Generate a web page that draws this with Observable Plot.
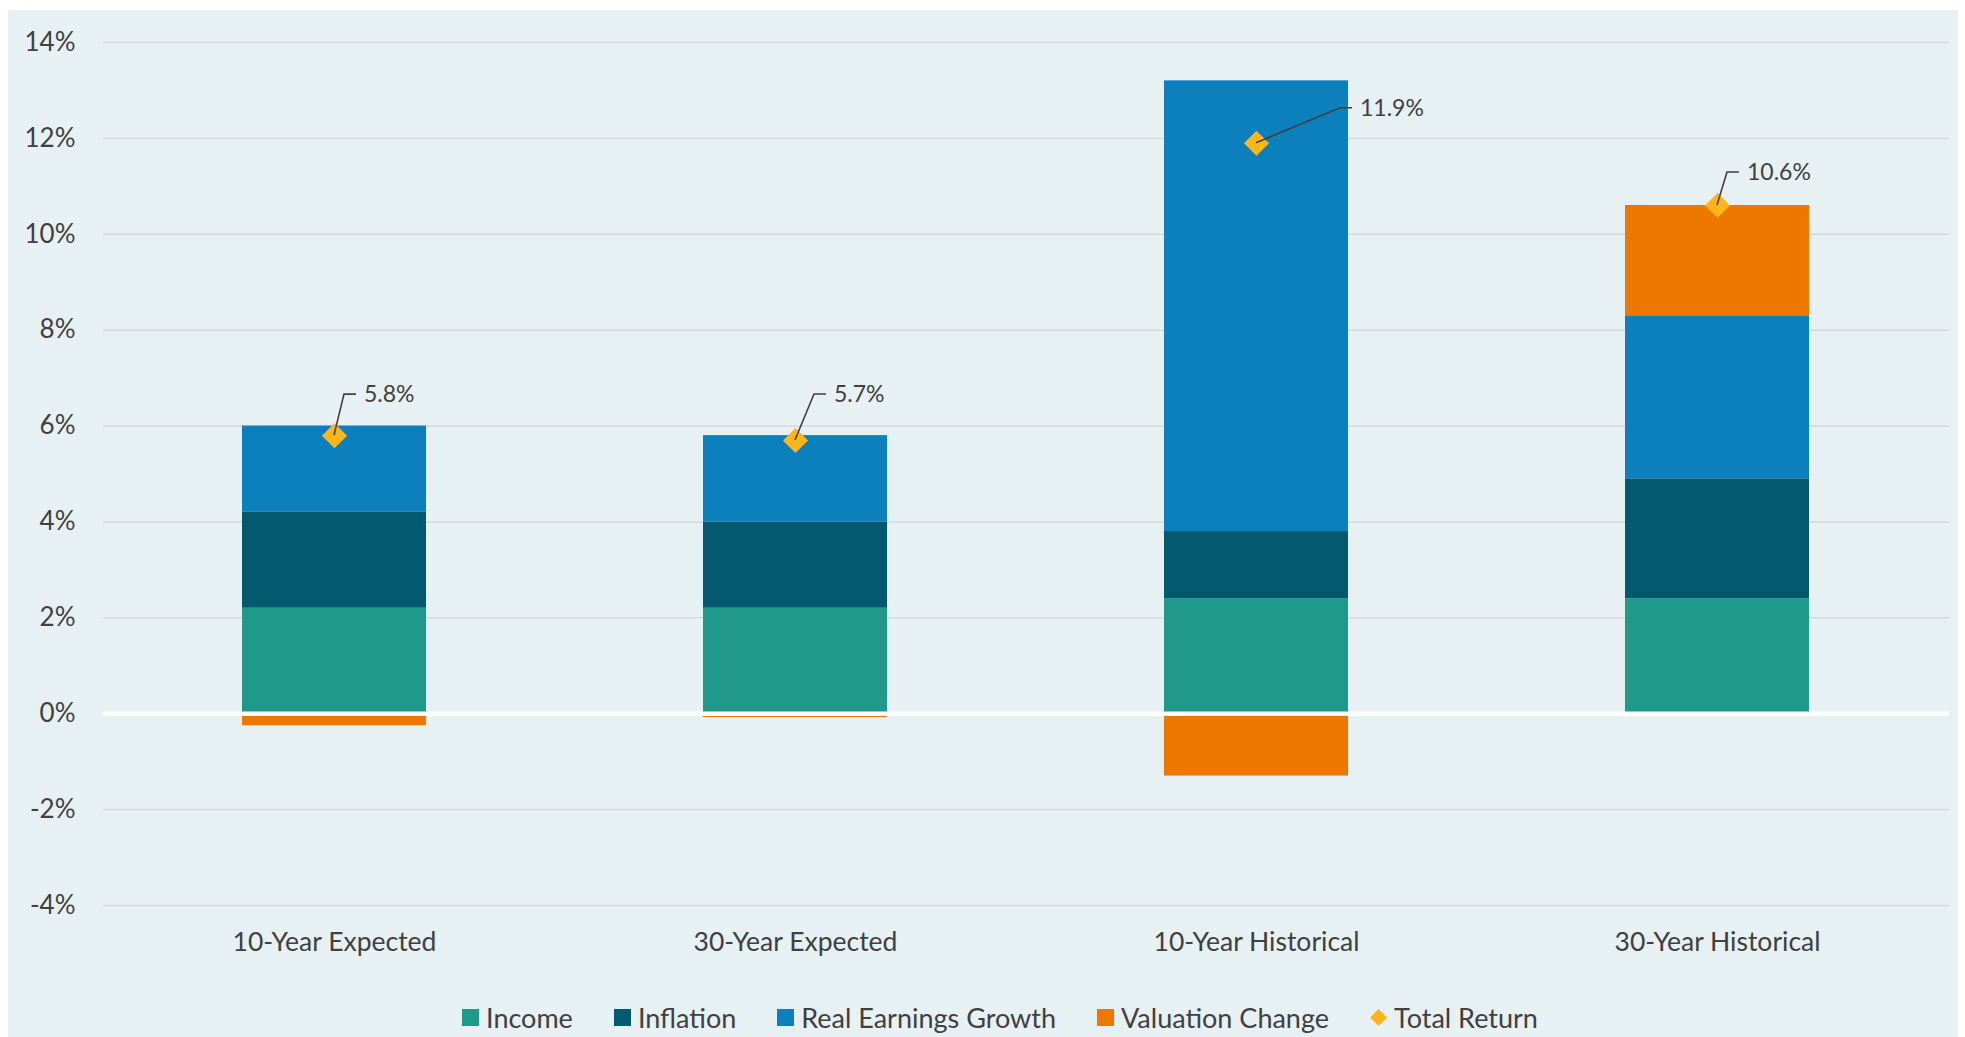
<!DOCTYPE html>
<html><head><meta charset="utf-8">
<script src="https://cdn.jsdelivr.net/npm/d3@7"></script>
<script src="https://cdn.jsdelivr.net/npm/@observablehq/plot@0.6"></script>
<style>
html,body{margin:0;padding:0;background:#fff;width:1965px;height:1037px;overflow:hidden;font-family:Lato,sans-serif;}
#panel{position:absolute;left:8px;top:10px;width:1950px;height:1027px;background:#E7F0F3;}
#chart{position:absolute;left:0;top:0;}
#legend{position:absolute;left:-8px;width:2000px;top:992px;height:30px;display:flex;justify-content:center;align-items:center;font-size:27px;color:#404040;font-family:Lato,sans-serif;}
.item{display:flex;align-items:center;margin:0 20.5px;white-space:nowrap;}
.sw{width:17px;height:17px;margin-right:7px;flex:none;}
</style></head><body>
<div id="panel"><div id="chart"></div><div id="legend"></div></div>
<script>
// ---- data ----
const categories = ["10-Year Expected", "30-Year Expected", "10-Year Historical", "30-Year Historical"];
const seriesNames = ["Income", "Inflation", "Real Earnings Growth", "Valuation Change"];
const income = [2.2, 2.2, 2.4, 2.4];
const inflation = [2.0, 1.8, 1.4, 2.5];
const realEarningsGrowth = [1.8, 1.8, 9.4, 3.4];
const valuationChange = [-0.25, -0.08, -1.3, 2.3];
const totalReturn = [5.8, 5.7, 11.9, 10.6];
const totalName = "Total Return";
const yTicks = [-4, -2, 0, 2, 4, 6, 8, 10, 12, 14];

// ---- styles ----
const seriesColors = ["#1F9A8A", "#03596F", "#0B80BC", "#EE7700"];
const totalColor = "#FDB619";
const textColor = "#404040";
// leader elbow offsets (px) from each diamond centre
const leaderOffsets = [[10, -41], [19, -46], [84, -35], [10, -33]];

const seriesValues = [income, inflation, realEarningsGrowth, valuationChange];
const rows = categories.flatMap((c, i) => seriesNames.map((s, j) => ({category: c, series: s, value: seriesValues[j][i]})));
const totals = categories.map((c, i) => ({category: c, total: totalReturn[i]}));

const chart = Plot.plot({
  width: 1950, height: 960,
  marginLeft: 95, marginRight: 9, marginTop: 32, marginBottom: 65,
  style: {background: "transparent", fontFamily: "Lato, sans-serif", color: textColor, fontSize: "26px"},
  x: {domain: categories, paddingInner: 0.6, paddingOuter: 0.3, label: null},
  y: {domain: [-4, 14], label: null},
  color: {domain: seriesNames, range: seriesColors},
  marks: [
    Plot.ruleY(yTicks.filter(t => t !== 0), {stroke: "#D5D9DB", strokeWidth: 1.5}),
    Plot.barY(rows, {x: "category", y: "value", fill: "series"}),
    Plot.ruleY([0], {stroke: "#FFFFFF", strokeWidth: 4.5}),
    Plot.dot(totals, {x: "category", y: "total", symbol: "diamond2", r: 11.3, fill: totalColor, stroke: "none"}),
    Plot.axisY({ticks: yTicks, tickFormat: d => d + "%", tickSize: 0, tickPadding: 28, fontSize: 26, label: null}),
    Plot.axisX({tickSize: 0, tickPadding: 27, fontSize: 26.5, label: null})
  ]
});
document.getElementById("chart").appendChild(chart);

// leader lines and total labels, positioned with the plot's scales
const sx = chart.scale("x"), sy = chart.scale("y");
const g = d3.select(chart).append("g");
totals.forEach((d, i) => {
  const cx = sx.apply(d.category) + sx.bandwidth / 2;
  const cy = sy.apply(d.total);
  const [dx, dy] = leaderOffsets[i];
  g.append("path")
    .attr("d", `M${cx},${cy}L${cx + dx},${cy + dy}h12`)
    .attr("fill", "none").attr("stroke", textColor).attr("stroke-width", 1.6);
  g.append("text")
    .attr("x", cx + dx + 20).attr("y", cy + dy).attr("dy", "0.35em")
    .attr("text-anchor", "start")
    .attr("fill", textColor).attr("font-size", 23)
    .text(d.total.toFixed(1) + "%");
});

// legend
const legend = d3.select("#legend");
seriesNames.forEach((s, j) => {
  const it = legend.append("div").attr("class", "item");
  it.append("div").attr("class", "sw").style("background", seriesColors[j]);
  it.append("span").text(s);
});
const tot = legend.append("div").attr("class", "item");
tot.append("svg").attr("width", 17).attr("height", 17).style("margin-right", "7px")
  .append("polygon").attr("points", "8.5,0 17,8.5 8.5,17 0,8.5").attr("fill", totalColor);
tot.append("span").text(totalName);
</script>
</body></html>
